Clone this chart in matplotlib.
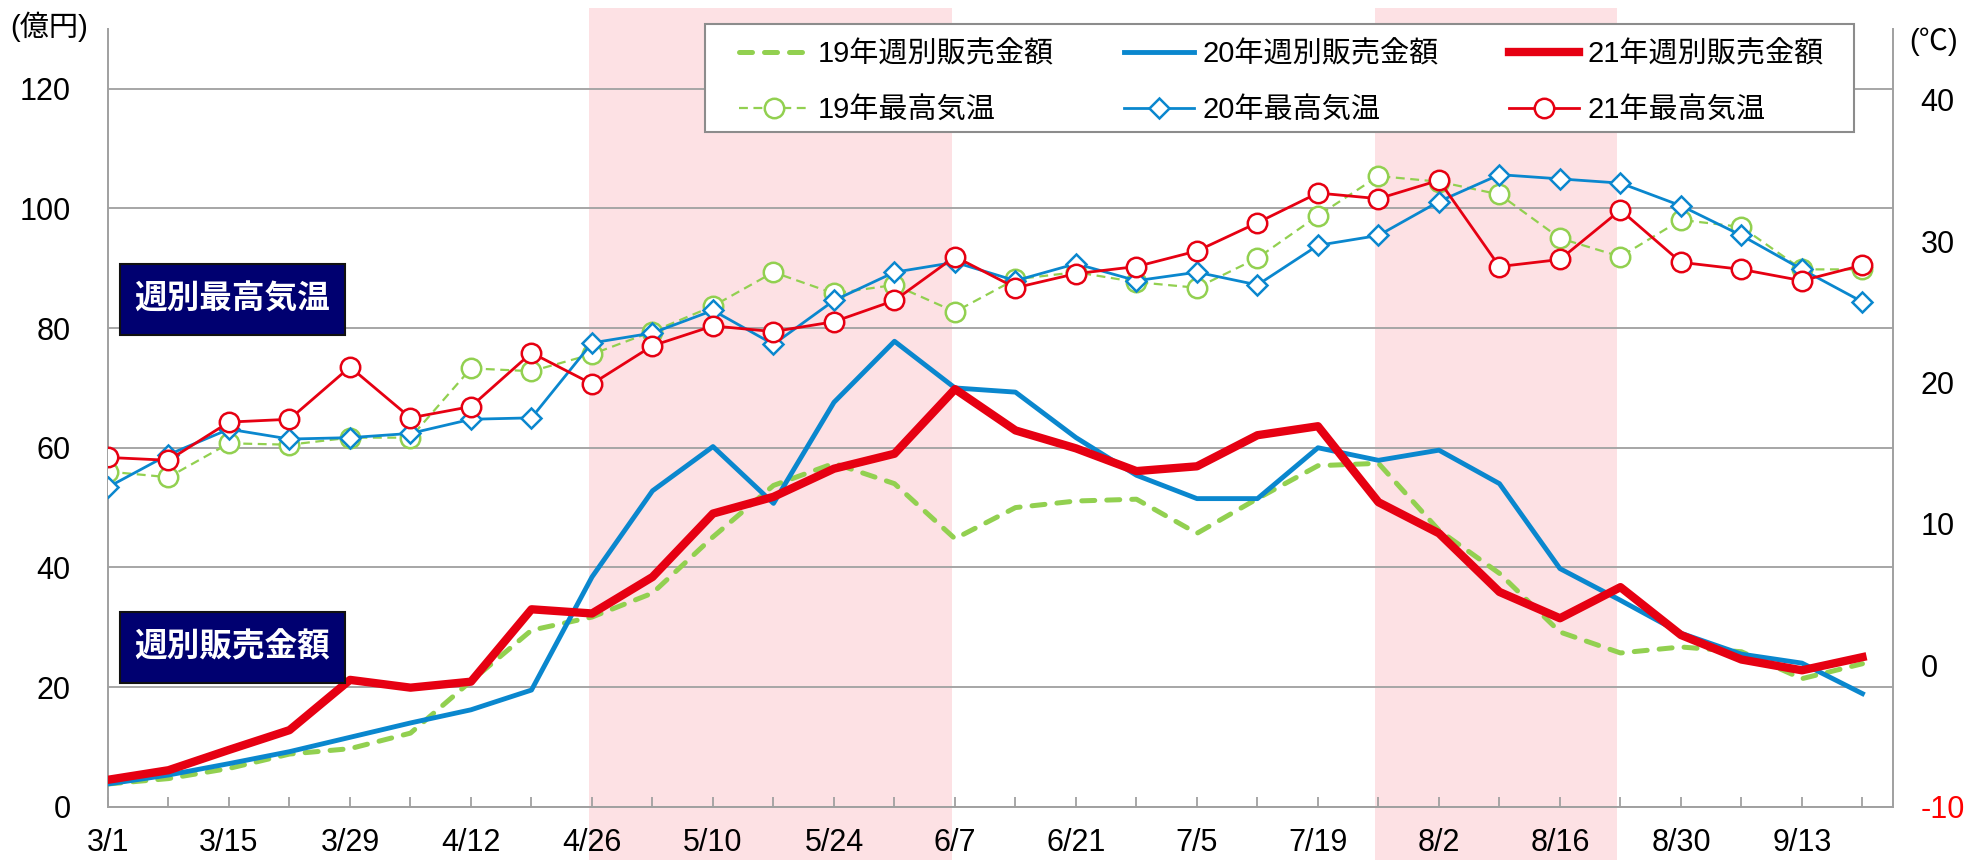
import matplotlib
matplotlib.use('Agg')
import matplotlib.pyplot as plt
import matplotlib.transforms as mtransforms
from matplotlib.patches import Rectangle
import numpy as np

plt.rcParams['font.family'] = ['Liberation Sans', 'Noto Sans CJK JP']
plt.rcParams['axes.unicode_minus'] = False

# ---------------- data ----------------
weeks = ['3/1', '3/8', '3/15', '3/22', '3/29', '4/5', '4/12', '4/19', '4/26', '5/3',
         '5/10', '5/17', '5/24', '5/31', '6/7', '6/14', '6/21', '6/28', '7/5', '7/12',
         '7/19', '7/26', '8/2', '8/9', '8/16', '8/23', '8/30', '9/6', '9/13', '9/20']

sales_19 = [3.8, 4.7, 6.4, 8.8, 9.7, 12.3, 21.0, 29.5, 31.7, 35.7,
            45.1, 53.7, 57.4, 54.0, 44.8, 50.0, 51.1, 51.4, 45.7, 51.5,
            57.0, 57.4, 46.2, 39.0, 29.2, 25.7, 26.7, 25.9, 21.4, 23.9]
sales_20 = [3.8, 5.3, 7.2, 9.2, 11.6, 14.0, 16.2, 19.5, 38.4, 52.8,
            60.2, 50.7, 67.6, 77.8, 70.0, 69.3, 61.7, 55.4, 51.5, 51.5,
            60.0, 57.9, 59.6, 54.0, 39.8, 34.5, 29.0, 25.5, 24.0, 18.9]
sales_21 = [4.5, 6.1, 9.5, 12.8, 21.2, 19.9, 20.9, 33.0, 32.3, 38.4,
            49.0, 51.8, 56.5, 59.0, 69.8, 62.9, 59.9, 56.1, 56.9, 62.1,
            63.6, 50.9, 45.7, 35.9, 31.5, 36.7, 28.7, 24.6, 22.8, 25.0]

temp_19 = [13.7, 13.3, 15.7, 15.6, 16.1, 16.1, 21.0, 20.8, 22.0, 23.6,
           25.4, 27.8, 26.3, 26.9, 25.0, 27.3, 27.8, 27.1, 26.7, 28.8,
           31.8, 34.6, 34.2, 33.3, 30.2, 28.9, 31.5, 31.0, 28.0, 28.0]
temp_20 = [12.6, 14.9, 16.7, 16.0, 16.1, 16.4, 17.4, 17.5, 22.8, 23.5,
           25.1, 22.7, 25.8, 27.8, 28.5, 27.2, 28.4, 27.2, 27.8, 26.9,
           29.7, 30.4, 32.8, 34.7, 34.4, 34.1, 32.5, 30.4, 28.0, 25.7]
temp_21 = [14.7, 14.5, 17.2, 17.4, 21.1, 17.5, 18.3, 22.1, 19.9, 22.6,
           24.0, 23.6, 24.3, 25.8, 28.9, 26.7, 27.7, 28.2, 29.3, 31.3,
           33.4, 33.0, 34.3, 28.2, 28.7, 32.2, 28.5, 28.0, 27.2, 28.3]

labels_sales = ['19年週別販売金額', '20年週別販売金額', '21年週別販売金額']
labels_temp = ['19年最高気温', '20年最高気温', '21年最高気温']
shaded_weeks = [('4/26', '6/7'), ('7/26', '8/23')]
left_ticks = [0, 20, 40, 60, 80, 100, 120]
right_ticks = [-10, 0, 10, 20, 30, 40]

# ---------------- style ----------------
GREEN = '#92D050'
BLUE = '#0A87CE'
RED = '#E60012'
PINK = '#FDE1E4'
NAVY = '#000070'
GRID = '#A6A6A6'

W, H = 1970, 860
fig = plt.figure(figsize=(W / 100, H / 100), dpi=100)
ax = fig.add_axes([108 / W, 1 - 806.7 / H, (1892.7 - 108) / W, (806.7 - 29) / H])
ax2 = ax.twinx()

x = np.arange(len(weeks))
ax.set_xlim(0, len(weeks) - 0.5)
ax.set_ylim(0, 130)
ax2.set_ylim(-10, 45)

# shaded periods (span full figure height)
blend = mtransforms.blended_transform_factory(ax.transData, fig.transFigure)
for a, b in shaded_weeks:
    i0, i1 = weeks.index(a) - 0.05, weeks.index(b) - 0.05
    ax.add_patch(Rectangle((i0, 0), i1 - i0, 1 - 8 / H, transform=blend,
                           facecolor=PINK, edgecolor='none', zorder=0.1, clip_on=False))

# grid
ax.set_axisbelow(True)
ax.yaxis.grid(True, color=GRID, lw=1.4)
ax.xaxis.grid(False)

# sales lines
l_s19, = ax.plot(x, sales_19, color=GREEN, lw=3.6, ls=(0, (2.6, 2.4)),
                 dash_capstyle='round', zorder=3)
l_s20, = ax.plot(x, sales_20, color=BLUE, lw=3.5, zorder=3.1)
l_s21, = ax.plot(x, sales_21, color=RED, lw=6.0, zorder=3.2)

# temperature lines
mk = dict(markerfacecolor='white', markeredgewidth=1.8)
l_t19, = ax2.plot(x, temp_19, color=GREEN, lw=1.6, ls=(0, (4, 2.5)),
                  marker='o', markersize=14, markeredgecolor=GREEN, **mk)
l_t20, = ax2.plot(x, temp_20, color=BLUE, lw=2.0,
                  marker='D', markersize=10, markeredgecolor=BLUE, **mk)
l_t21, = ax2.plot(x, temp_21, color=RED, lw=2.0,
                  marker='o', markersize=14, markeredgecolor=RED, **mk)

# ticks
ax.set_xticks(x[::2])
ax.set_xticklabels(weeks[::2])
ax.set_xticks(x[1::2], minor=True)
ax.tick_params(axis='x', which='both', direction='in', length=7.5, width=1.3,
               color='#A0A0A0', pad=15, labelsize=22, labelcolor='black')
ax.set_yticks(left_ticks)
ax.tick_params(axis='y', length=0, pad=27, labelsize=22, labelcolor='black')
ax2.set_yticks(right_ticks)
ax2.tick_params(axis='y', length=0, pad=20, labelsize=22, labelcolor='black')
for t, v in zip(ax2.get_yticklabels(), right_ticks):
    if v < 0:
        t.set_color('#FF0000')

# spines
for s in ['top', 'right']:
    ax.spines[s].set_visible(False)
for s in ['left', 'bottom']:
    ax.spines[s].set_color('#A0A0A0')
    ax.spines[s].set_linewidth(1.4)
for s in ['top', 'left', 'bottom']:
    ax2.spines[s].set_visible(False)
ax2.spines['right'].set_color('#A0A0A0')
ax2.spines['right'].set_linewidth(1.4)

# unit labels
fig.text(49 / W, 1 - 27 / H, '(億円)', ha='center', va='center', fontsize=21)
fig.text(1934 / W, 1 - 41.5 / H, '(℃)', ha='center', va='center', fontsize=21)

# navy labels
for (y0, y1), txt in [((264, 335), '週別最高気温'), ((612, 683), '週別販売金額')]:
    fig.add_artist(Rectangle((120 / W, 1 - y1 / H), (345 - 120) / W, (y1 - y0) / H,
                             transform=fig.transFigure, facecolor=NAVY,
                             edgecolor='#111111', lw=1.5, zorder=4))
    fig.text(232 / W, 1 - (y0 + y1) / 2 / H, txt, ha='center', va='center',
             fontsize=23.5, fontweight='bold', color='white', zorder=5)

# legend
fig.add_artist(Rectangle((705 / W, 1 - 132 / H), (1854 - 705) / W, (132 - 24) / H,
                         transform=fig.transFigure, facecolor='white',
                         edgecolor='#8C8C8C', lw=1.5, zorder=4))
handles = [l_s19, l_t19, l_s20, l_t20, l_s21, l_t21]
labels = [labels_sales[0], labels_temp[0], labels_sales[1], labels_temp[1],
          labels_sales[2], labels_temp[2]]
leg = fig.legend(handles, labels, loc='upper left', bbox_to_anchor=(739 / W, 1 - 40 / H),
                 ncol=3, frameon=False, fontsize=21, handlelength=2.4,
                 handletextpad=0.3, columnspacing=2.4, labelspacing=0.95,
                 borderpad=0, borderaxespad=0)
leg.set_zorder(6)

fig.savefig('out.png', dpi=100)
